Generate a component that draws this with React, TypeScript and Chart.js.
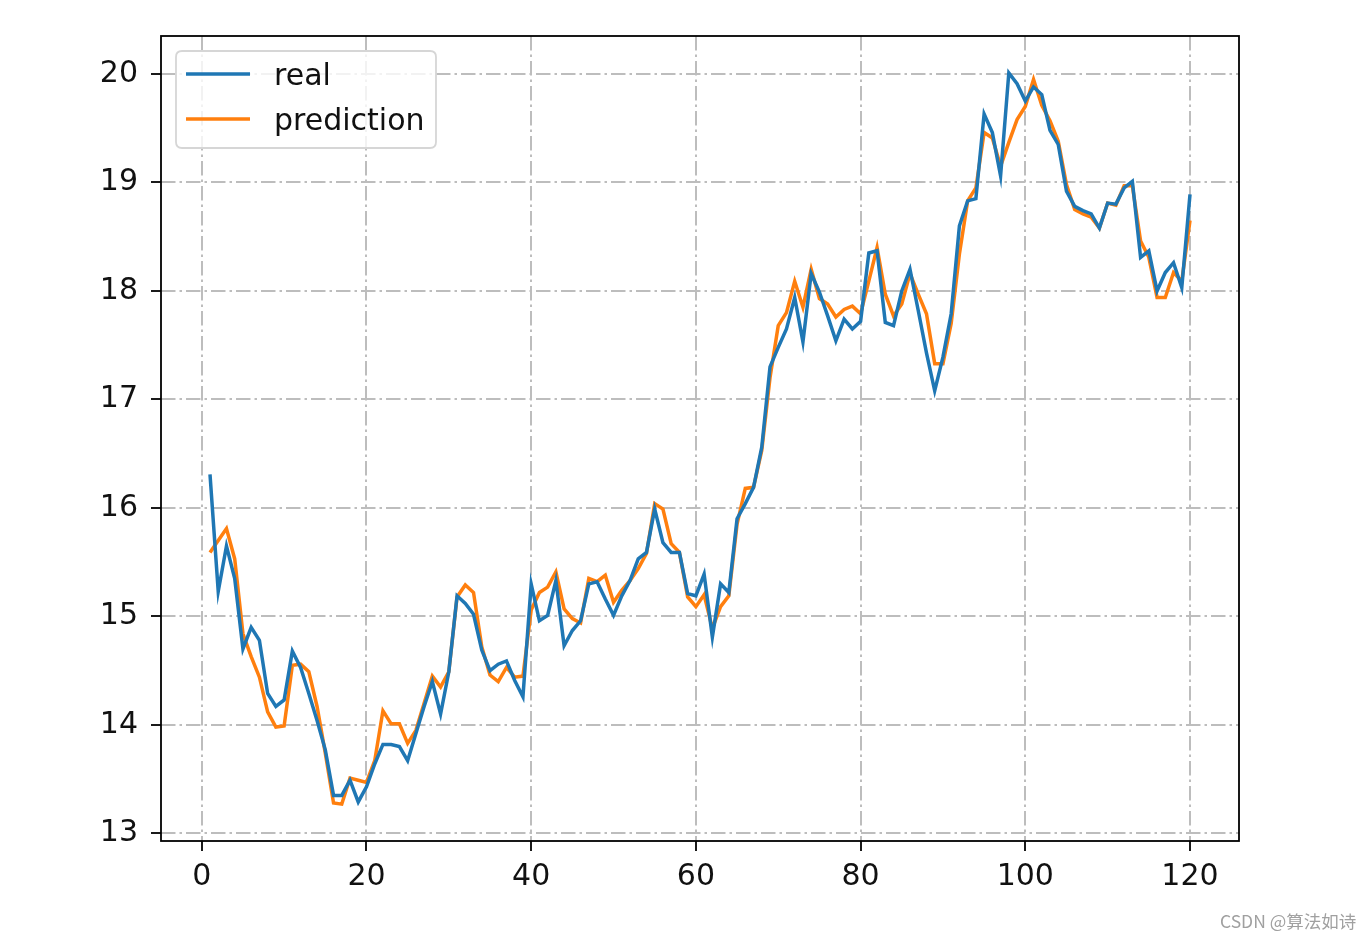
import React, { useEffect, useRef } from "react";
import { Chart, registerables } from "chart.js";

Chart.register(...registerables);

const days: number[] = Array.from({ length: 120 }, (_, i) => i + 1);

const realValues: number[] = [
  16.31, 15.23, 15.65, 15.35, 14.70, 14.90, 14.78, 14.29, 14.17, 14.23,
  14.68, 14.53, 14.29, 14.04, 13.77, 13.35, 13.35, 13.49, 13.29, 13.43,
  13.64, 13.82, 13.82, 13.80, 13.67, 13.92, 14.17, 14.40, 14.10, 14.49,
  15.19, 15.12, 15.02, 14.69, 14.50, 14.56, 14.59, 14.41, 14.26, 15.30,
  14.96, 15.01, 15.33, 14.73, 14.87, 14.96, 15.30, 15.32, 15.16, 15.01,
  15.19, 15.33, 15.53, 15.59, 15.99, 15.68, 15.59, 15.59, 15.21, 15.19,
  15.39, 14.81, 15.30, 15.22, 15.90, 16.04, 16.19, 16.56, 17.30, 17.48,
  17.65, 17.94, 17.53, 18.16, 17.99, 17.77, 17.54, 17.74, 17.65, 17.72,
  18.35, 18.37, 17.71, 17.68, 18.00, 18.20, 17.82, 17.43, 17.08, 17.39,
  17.79, 18.60, 18.83, 18.85, 19.63, 19.46, 19.06, 20.01, 19.91, 19.75,
  19.88, 19.81, 19.48, 19.35, 18.92, 18.78, 18.74, 18.71, 18.58, 18.81,
  18.80, 18.95, 19.01, 18.31, 18.37, 18.00, 18.17, 18.26, 18.03, 18.89,
];

const predictionValues: number[] = [
  15.59, 15.70, 15.81, 15.53, 14.84, 14.63, 14.44, 14.12, 13.98, 13.99,
  14.55, 14.56, 14.49, 14.17, 13.74, 13.28, 13.27, 13.51, 13.49, 13.47,
  13.67, 14.13, 14.01, 14.01, 13.83, 13.95, 14.20, 14.45, 14.35, 14.49,
  15.18, 15.29, 15.22, 14.72, 14.46, 14.40, 14.53, 14.44, 14.45, 15.06,
  15.22, 15.27, 15.41, 15.07, 14.98, 14.94, 15.35, 15.32, 15.38, 15.13,
  15.24, 15.33, 15.44, 15.58, 16.04, 15.99, 15.67, 15.59, 15.18, 15.09,
  15.20, 14.89, 15.09, 15.19, 15.85, 16.18, 16.19, 16.53, 17.20, 17.68,
  17.80, 18.09, 17.85, 18.20, 17.93, 17.88, 17.76, 17.83, 17.86, 17.79,
  18.09, 18.40, 17.97, 17.77, 17.88, 18.16, 17.97, 17.79, 17.33, 17.33,
  17.70, 18.34, 18.83, 18.95, 19.46, 19.41, 19.15, 19.37, 19.58, 19.70,
  19.95, 19.71, 19.57, 19.38, 18.98, 18.75, 18.71, 18.68, 18.58, 18.81,
  18.79, 18.97, 18.97, 18.46, 18.31, 17.94, 17.94, 18.17, 18.09, 18.65,
];

const xTicks: number[] = [0, 20, 40, 60, 80, 100, 120];
const yTicks: number[] = [13, 14, 15, 16, 17, 18, 19, 20];
const seriesNames: string[] = ["real", "prediction"];
const seriesColors: string[] = ["#1f77b4", "#ff7f0e"];

const FONT = "'DejaVu Sans', sans-serif";
const FONT_SIZE = 30;

const frameAndLegend = {
  id: "frameAndLegend",
  afterDraw(chart: any) {
    const { ctx, chartArea } = chart;
    const { left, right, top, bottom } = chartArea;
    ctx.save();
    ctx.strokeStyle = "#000";
    ctx.lineWidth = 1.8;
    ctx.setLineDash([]);
    ctx.strokeRect(left, top, right - left, bottom - top);

    // legend box
    const bx = left + 15, by = top + 15, bw = 260, bh = 97, r = 6;
    ctx.beginPath();
    ctx.moveTo(bx + r, by);
    ctx.lineTo(bx + bw - r, by);
    ctx.quadraticCurveTo(bx + bw, by, bx + bw, by + r);
    ctx.lineTo(bx + bw, by + bh - r);
    ctx.quadraticCurveTo(bx + bw, by + bh, bx + bw - r, by + bh);
    ctx.lineTo(bx + r, by + bh);
    ctx.quadraticCurveTo(bx, by + bh, bx, by + bh - r);
    ctx.lineTo(bx, by + r);
    ctx.quadraticCurveTo(bx, by, bx + r, by);
    ctx.closePath();
    ctx.fillStyle = "rgba(255,255,255,0.8)";
    ctx.fill();
    ctx.strokeStyle = "#d6d6d6";
    ctx.lineWidth = 1.8;
    ctx.stroke();

    ctx.font = `${FONT_SIZE}px ${FONT}`;
    ctx.textBaseline = "middle";
    ctx.textAlign = "left";
    seriesNames.forEach((name, i) => {
      const y = by + 23 + i * 45;
      ctx.beginPath();
      ctx.strokeStyle = seriesColors[i];
      ctx.lineWidth = 3.5;
      ctx.moveTo(bx + 10, y);
      ctx.lineTo(bx + 74, y);
      ctx.stroke();
      ctx.fillStyle = "#111";
      ctx.fillText(name, bx + 98, y + 3);
    });
    ctx.restore();
  },
};

export default function App() {
  const canvasRef = useRef<HTMLCanvasElement>(null);

  useEffect(() => {
    if (!canvasRef.current) return;
    const gridCommon = {
      color: "#bdbdbd",
      lineWidth: 2,
      drawTicks: true,
      tickLength: 10,
      tickColor: "#000",
      tickWidth: 1.8,
      tickBorderDash: [],
    };
    const gridDash = [14.5, 4, 2.5, 4];
    const chart = new Chart(canvasRef.current, {
      type: "line",
      data: {
        labels: days,
        datasets: [
          {
            label: seriesNames[0],
            data: realValues,
            borderColor: seriesColors[0],
            borderWidth: 3.5,
            pointRadius: 0,
            tension: 0,
            fill: false,
          },
          {
            label: seriesNames[1],
            data: predictionValues,
            borderColor: seriesColors[1],
            borderWidth: 3.5,
            pointRadius: 0,
            tension: 0,
            fill: false,
          },
        ],
      },
      options: {
        responsive: false,
        animation: false,
        events: [],
        layout: { padding: { left: 61, right: 133, top: 36, bottom: 38 } },
        plugins: {
          legend: { display: false },
          tooltip: { enabled: false },
        },
        scales: {
          x: {
            type: "linear",
            min: -4.95,
            max: 125.95,
            afterBuildTicks: (scale: any) => {
              scale.ticks = xTicks.map((v) => ({ value: v }));
            },
            afterFit: (scale: any) => {
              scale.height = 60;
            },
            grid: gridCommon,
            border: { display: false, dash: gridDash },
            ticks: {
              font: { family: FONT, size: FONT_SIZE },
              color: "#111",
              padding: 8,
              maxRotation: 0,
              callback: (v: any) => String(v),
            },
          },
          y: {
            type: "linear",
            min: 12.93,
            max: 20.35,
            afterBuildTicks: (scale: any) => {
              scale.ticks = yTicks.map((v) => ({ value: v }));
            },
            afterFit: (scale: any) => {
              scale.width = 100;
            },
            grid: gridCommon,
            border: { display: false, dash: gridDash },
            ticks: {
              font: { family: FONT, size: FONT_SIZE },
              color: "#111",
              padding: 13,
              callback: (v: any) => String(v),
            },
          },
        },
      },
      plugins: [frameAndLegend],
    } as any);
    return () => chart.destroy();
  }, []);

  return (
    <div style={{ position: "absolute", left: 0, top: 0, width: 1372, height: 939, background: "#fff" }}>
      <canvas ref={canvasRef} width={1372} height={939} style={{ display: "block" }} />
      <span
        style={{
          position: "absolute",
          left: 1220,
          top: 908,
          fontFamily: "'Noto Sans CJK SC', 'Noto Sans', sans-serif",
          fontSize: 17.5,
          color: "#a0a0a0",
          whiteSpace: "nowrap",
        }}
      >
        CSDN @算法如诗
      </span>
    </div>
  );
}
